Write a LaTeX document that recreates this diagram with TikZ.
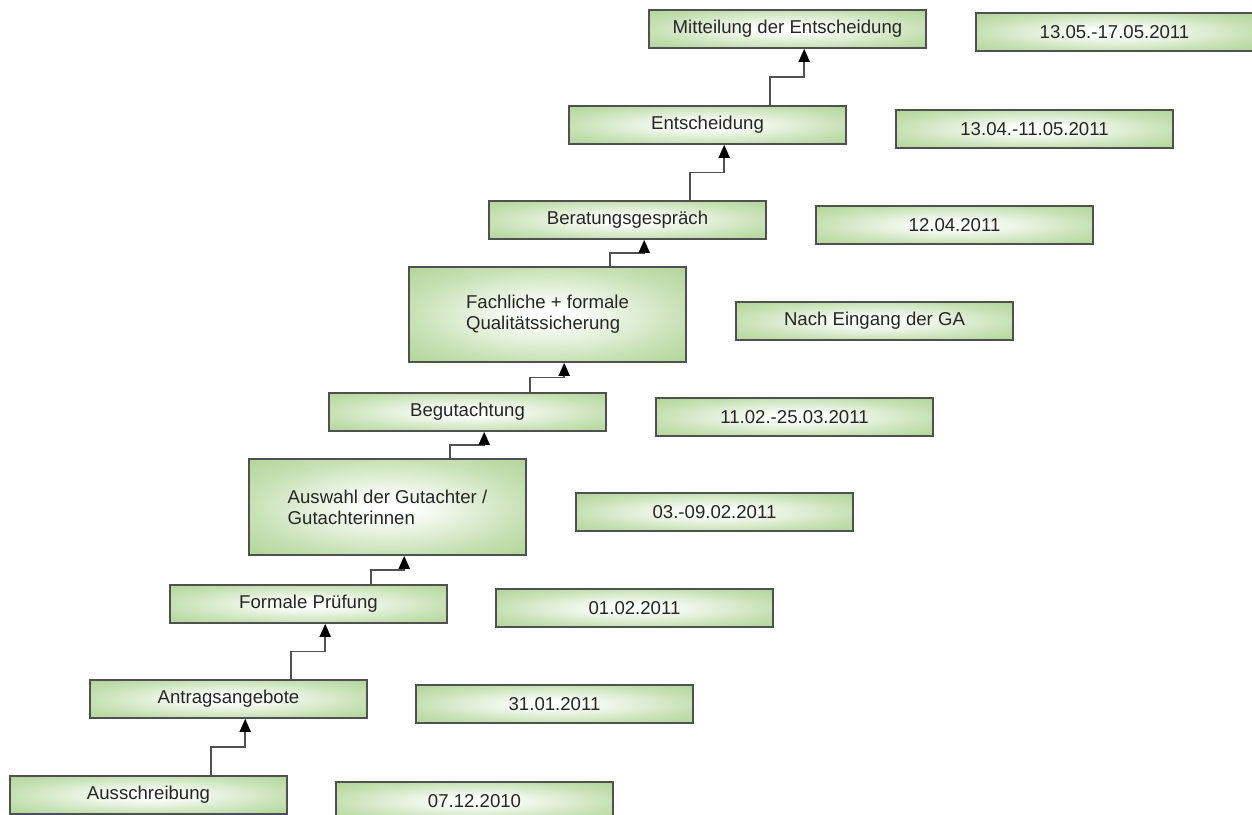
\documentclass[tikz,border=0pt]{standalone}
\usepackage{fontspec}
\setmainfont{Liberation Sans}
\usetikzlibrary{arrows.meta,calc}
\definecolor{boxgreen}{RGB}{160,204,130}
\definecolor{boxline}{RGB}{80,80,80}
\definecolor{txt}{RGB}{38,38,38}
\pgfdeclareradialshading{boxshade}{\pgfpointorigin}{color(0bp)=(white); color(4bp)=(white); color(25bp)=(boxgreen!60!white); color(44bp)=(boxgreen); color(72bp)=(boxgreen)}
\tikzset{
  stepbox/.style={draw=boxline, line width=1.6pt, shading=boxshade, minimum width=277pt, minimum height=38pt, inner sep=0pt, text=txt, font=\fontsize{18.6}{21}\selectfont, align=left},
  tallbox/.style={stepbox, minimum height=96pt},
  conn/.style={draw=boxline, line width=1.8pt, -{Triangle[width=11pt,length=13pt,fill=black,color=black]}}
}
\begin{document}
\begin{tikzpicture}[x=1pt,y=-1pt]
\useasboundingbox (0,0) rectangle (1252,814);
% steps
\node[stepbox] (s1) at (148.5,795) {Ausschreibung};
\node[stepbox] (s2) at (228.5,699) {Antragsangebote};
\node[stepbox] (s3) at (308.5,604) {Formale Prüfung};
\node[tallbox] (s4) at (387.5,507) {Auswahl der Gutachter /\\Gutachterinnen};
\node[stepbox] (s5) at (467.5,412) {Begutachtung};
\node[tallbox, minimum height=95pt] (s6) at (547.5,314.5) {Fachliche + formale\\Qualitätssicherung};
\node[stepbox] (s7) at (627.5,220) {Beratungsgespräch};
\node[stepbox] (s8) at (707.5,125) {Entscheidung};
\node[stepbox] (s9) at (787.5,29) {Mitteilung der Entscheidung};
% dates
\node[stepbox] (d1) at (474.5,801) {07.12.2010};
\node[stepbox] (d2) at (554.5,704) {31.01.2011};
\node[stepbox] (d3) at (634.5,608) {01.02.2011};
\node[stepbox] (d4) at (714.5,512) {03.-09.02.2011};
\node[stepbox] (d5) at (794.5,417) {11.02.-25.03.2011};
\node[stepbox] (d6) at (874.5,321) {Nach Eingang der GA};
\node[stepbox] (d7) at (954.5,225) {12.04.2011};
\node[stepbox] (d8) at (1034.5,129) {13.04.-11.05.2011};
\node[stepbox] (d9) at (1114.5,32) {13.05.-17.05.2011};
% connectors
\foreach \a/\b in {s1/s2,s2/s3,s3/s4,s4/s5,s5/s6,s6/s7,s7/s8,s8/s9}{
  \coordinate (p1) at ([xshift=202pt]\a.north west);
  \coordinate (p2) at ([xshift=156pt]\b.south west);
  \coordinate (m) at ($(\a.north)!0.5!(\b.south)$);
  \draw[conn] (p1) -- (p1 |- m) -| (p2);
}
\end{tikzpicture}
\end{document}
